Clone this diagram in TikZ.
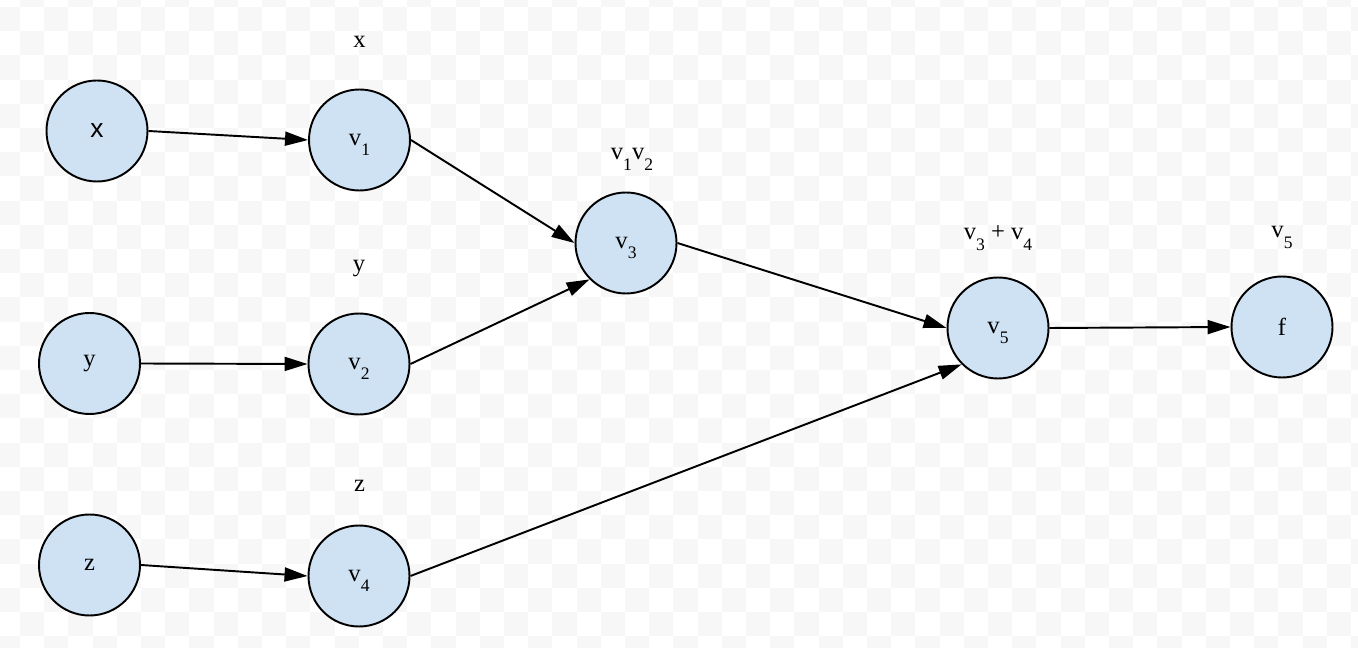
\documentclass[tikz,border=0pt]{standalone}
\usepackage{fontspec}
\setmainfont{Liberation Serif}
\newfontfamily\sansnode{Liberation Sans}
\usetikzlibrary{arrows.meta}
\definecolor{nodeblue}{HTML}{CFE2F3}
\definecolor{checker}{HTML}{F7F7F7}
\newcommand{\idx}[1]{\smash{\raisebox{-0.42em}{\fontsize{10}{12}\selectfont #1}}}
\tikzset{
  var/.style={circle, draw=black, line width=1.1pt, fill=nodeblue, minimum size=2.02cm, inner sep=0pt, font=\fontsize{14}{16}\selectfont},
  val/.style={font=\fontsize{14}{16}\selectfont, inner sep=0pt, anchor=base},
  edge/.style={-{Triangle[length=0.46cm,width=0.28cm]}, line width=1.1pt}
}
\begin{document}
\begin{tikzpicture}
    \useasboundingbox (0,0) rectangle (27.16,12.96);
    % Sfondo a scacchi
    \begin{scope}
    \clip (0,0) rectangle (27.16,12.96);
    \foreach \i in {-1,...,55} {
      \foreach \j in {-1,...,26} {
        \ifodd\numexpr\i+\j+2\relax
          \fill[checker] ({0.4+0.484*\i},{12.82-0.484*\j}) rectangle ++(0.484,-0.484);
        \fi
      }
    }
    \end{scope}

    % Ingressi
    \node[var, font=\sansnode\fontsize{15}{17}\selectfont] (x) at (1.94,10.34) {x};
    \node[var] (y) at (1.79,5.69) {y};
    \node[var] (z) at (1.79,1.66) {z};

    % Variabili intermedie
    \node[var] (v1) at (7.19,10.16) {v\idx{1}};
    \node[var] (v2) at (7.18,5.68) {v\idx{2}};
    \node[var] (v4) at (7.18,1.44) {v\idx{4}};
    \node[var] (v3) at (12.52,8.10) {v\idx{3}};
    \node[var] (v5) at (19.96,6.40) {v\idx{5}};
    \node[var] (f) at (25.64,6.42) {f};

    % Valori sopra i nodi
    \node[val] (lx) at (7.19,12.00) {x};
    \node[val] (ly) at (7.18,7.52) {y};
    \node[val] (lz) at (7.19,3.12) {z};
    \node[val] (lv3) at (12.64,9.76) {v\idx{1}v\idx{2}};
    \node[val] (lv5) at (19.96,8.16) {v\idx{3} + v\idx{4}};
    \node[val] (lf) at (25.64,8.20) {v\idx{5}};

    % Archi
    \draw[edge] (x.east) -- (v1.west);
    \draw[edge] (y.east) -- (v2.west);
    \draw[edge] (z.east) -- (v4.west);
    \draw[edge] (v1.east) -- (v3.west);
    \draw[edge] (v2.east) -- (v3.south west);
    \draw[edge] (v3.east) -- (v5.west);
    \draw[edge] (v4.east) -- (v5.south west);
    \draw[edge] (v5.east) -- (f.west);
\end{tikzpicture}
\end{document}
